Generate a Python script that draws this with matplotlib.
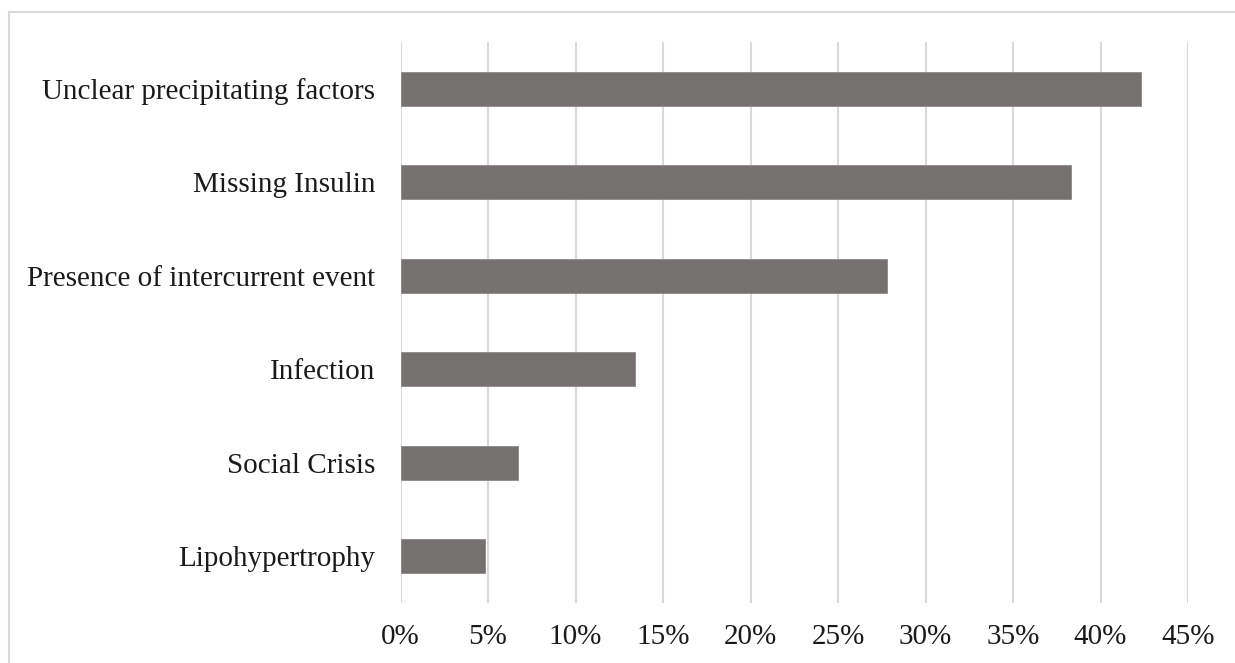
import matplotlib.pyplot as plt
from matplotlib.lines import Line2D
from matplotlib.ticker import FuncFormatter

# data (percent)
categories = ['Unclear precipitating factors', 'Missing Insulin', 'Presence of intercurrent event',
              'Infection', 'Social Crisis', 'Lipohypertrophy']
values = [42.3, 38.3, 27.8, 13.4, 6.7, 4.8]
xticks = [0, 5, 10, 15, 20, 25, 30, 35, 40, 45]

plt.rcParams['font.family'] = ['Liberation Serif', 'DejaVu Serif']

W, H = 1235, 663
fig = plt.figure(figsize=(W / 100, H / 100), dpi=100)
ax = fig.add_axes([400.5 / W, 1 - 603 / H, (1188 - 400.5) / W, (603 - 42) / H])

ypos = list(range(len(categories)))[::-1]
ax.barh(ypos, values, height=0.36, color='#767171', edgecolor='#8c8888', linewidth=0.6, zorder=3)

ax.set_xlim(0, 45)
ax.set_ylim(-0.5, len(categories) - 0.5)
ax.set_xticks(xticks)
ax.xaxis.set_major_formatter(FuncFormatter(lambda v, p: f'{v:.0f}%'))
ax.set_yticks(ypos)
ax.set_yticklabels(categories)
ax.tick_params(axis='both', length=0, labelsize=21, colors='#1a1a1a')
ax.tick_params(axis='y', pad=18)
ax.tick_params(axis='x', pad=15)
ax.grid(axis='x', color='#d9d9d9', linewidth=1.5, zorder=0)
for s in ax.spines.values():
    s.set_visible(False)

# outer chart border (cropped on right and bottom)
fig.add_artist(Line2D([9 / W, 9 / W], [0, 1 - 12 / H], transform=fig.transFigure, color='#d9d9d9', lw=1.5))
fig.add_artist(Line2D([9 / W, 1], [1 - 12 / H, 1 - 12 / H], transform=fig.transFigure, color='#d9d9d9', lw=1.5))

fig.savefig('out.png', dpi=100)
